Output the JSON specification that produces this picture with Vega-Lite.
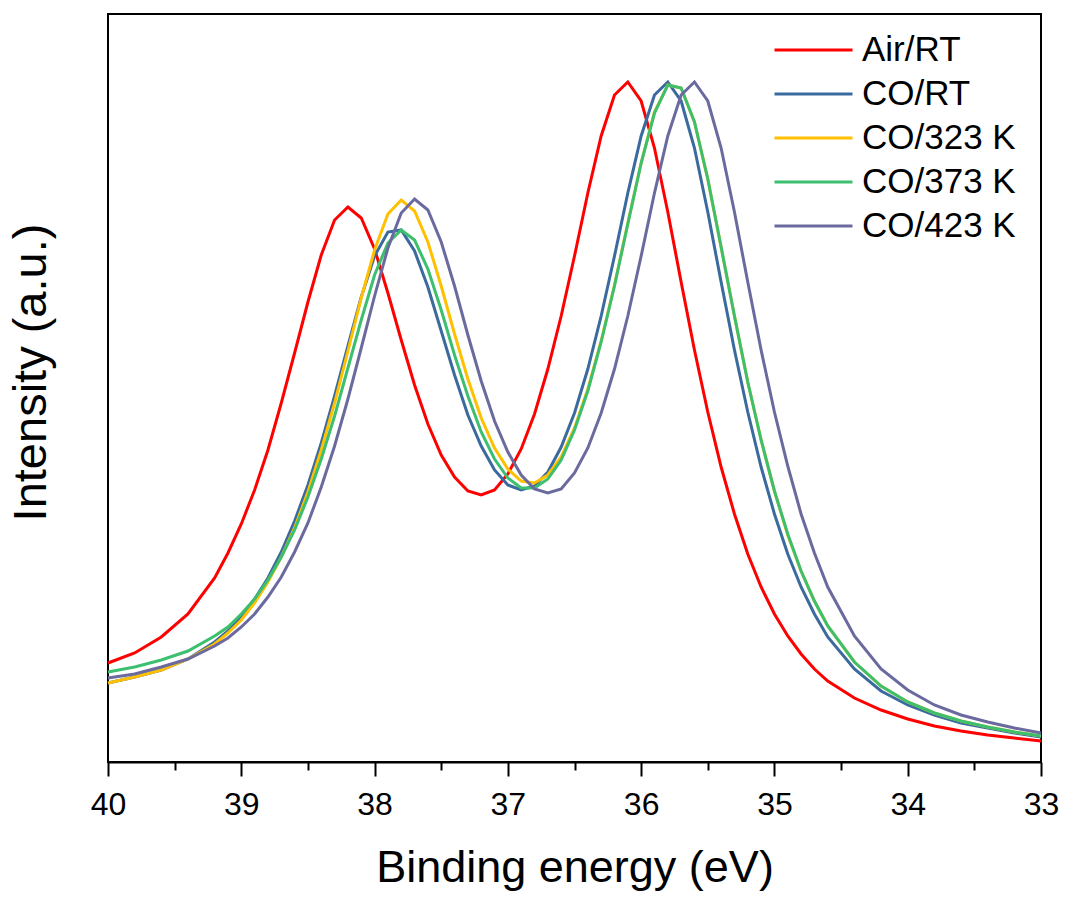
{
  "$schema": "https://vega.github.io/schema/vega-lite/v6.json",
  "width": 933,
  "height": 748,
  "autosize": {"type": "none"},
  "padding": {"left": 108, "top": 14, "right": 24, "bottom": 136},
  "background": "white",
  "config": {
    "view": {"stroke": "black", "strokeWidth": 2},
    "font": "Liberation Sans"
  },
  "data": {
    "values": [
      {"e": 40.0, "Air/RT": 99, "CO/RT": 79, "CO/323 K": 79, "CO/373 K": 90, "CO/423 K": 84},
      {"e": 39.8, "Air/RT": 109, "CO/RT": 85, "CO/323 K": 85, "CO/373 K": 95, "CO/423 K": 88},
      {"e": 39.6, "Air/RT": 125, "CO/RT": 92, "CO/323 K": 92, "CO/373 K": 102, "CO/423 K": 95},
      {"e": 39.4, "Air/RT": 148, "CO/RT": 103, "CO/323 K": 103, "CO/373 K": 111, "CO/423 K": 103},
      {"e": 39.2, "Air/RT": 184, "CO/RT": 120, "CO/323 K": 118, "CO/373 K": 126, "CO/423 K": 116},
      {"e": 39.1, "Air/RT": 209, "CO/RT": 131, "CO/323 K": 129, "CO/373 K": 135, "CO/423 K": 124},
      {"e": 39.0, "Air/RT": 238, "CO/RT": 145, "CO/323 K": 142, "CO/373 K": 148, "CO/423 K": 135},
      {"e": 38.9, "Air/RT": 272, "CO/RT": 163, "CO/323 K": 159, "CO/373 K": 163, "CO/423 K": 148},
      {"e": 38.8, "Air/RT": 312, "CO/RT": 184, "CO/323 K": 180, "CO/373 K": 182, "CO/423 K": 165},
      {"e": 38.7, "Air/RT": 359, "CO/RT": 210, "CO/323 K": 205, "CO/373 K": 205, "CO/423 K": 185},
      {"e": 38.6, "Air/RT": 409, "CO/RT": 241, "CO/323 K": 234, "CO/373 K": 232, "CO/423 K": 210},
      {"e": 38.5, "Air/RT": 460, "CO/RT": 277, "CO/323 K": 270, "CO/373 K": 265, "CO/423 K": 239},
      {"e": 38.4, "Air/RT": 507, "CO/RT": 319, "CO/323 K": 312, "CO/373 K": 303, "CO/423 K": 275},
      {"e": 38.3, "Air/RT": 542, "CO/RT": 366, "CO/323 K": 359, "CO/373 K": 346, "CO/423 K": 316},
      {"e": 38.2, "Air/RT": 555, "CO/RT": 416, "CO/323 K": 411, "CO/373 K": 394, "CO/423 K": 363},
      {"e": 38.1, "Air/RT": 544, "CO/RT": 465, "CO/323 K": 464, "CO/373 K": 442, "CO/423 K": 414},
      {"e": 38.0, "Air/RT": 513, "CO/RT": 506, "CO/323 K": 512, "CO/373 K": 487, "CO/423 K": 466},
      {"e": 37.9, "Air/RT": 469, "CO/RT": 530, "CO/323 K": 548, "CO/373 K": 519, "CO/423 K": 514},
      {"e": 37.8, "Air/RT": 422, "CO/RT": 532, "CO/323 K": 562, "CO/373 K": 532, "CO/423 K": 549},
      {"e": 37.7, "Air/RT": 377, "CO/RT": 511, "CO/323 K": 551, "CO/373 K": 522, "CO/423 K": 563},
      {"e": 37.6, "Air/RT": 338, "CO/RT": 475, "CO/323 K": 520, "CO/373 K": 493, "CO/423 K": 552},
      {"e": 37.5, "Air/RT": 307, "CO/RT": 431, "CO/323 K": 476, "CO/373 K": 452, "CO/423 K": 520},
      {"e": 37.4, "Air/RT": 285, "CO/RT": 387, "CO/323 K": 428, "CO/373 K": 407, "CO/423 K": 476},
      {"e": 37.3, "Air/RT": 271, "CO/RT": 347, "CO/323 K": 383, "CO/373 K": 366, "CO/423 K": 427},
      {"e": 37.2, "Air/RT": 267, "CO/RT": 316, "CO/323 K": 344, "CO/373 K": 330, "CO/423 K": 381},
      {"e": 37.1, "Air/RT": 272, "CO/RT": 292, "CO/323 K": 314, "CO/373 K": 303, "CO/423 K": 341},
      {"e": 37.0, "Air/RT": 288, "CO/RT": 277, "CO/323 K": 293, "CO/373 K": 284, "CO/423 K": 310},
      {"e": 36.9, "Air/RT": 313, "CO/RT": 272, "CO/323 K": 281, "CO/373 K": 274, "CO/423 K": 287},
      {"e": 36.8, "Air/RT": 348, "CO/RT": 276, "CO/323 K": 279, "CO/373 K": 274, "CO/423 K": 273},
      {"e": 36.7, "Air/RT": 393, "CO/RT": 290, "CO/323 K": 287, "CO/373 K": 283, "CO/423 K": 269},
      {"e": 36.6, "Air/RT": 446, "CO/RT": 315, "CO/323 K": 305, "CO/373 K": 302, "CO/423 K": 273},
      {"e": 36.5, "Air/RT": 506, "CO/RT": 349, "CO/323 K": 334, "CO/373 K": 332, "CO/423 K": 289},
      {"e": 36.4, "Air/RT": 569, "CO/RT": 393, "CO/323 K": 373, "CO/373 K": 371, "CO/423 K": 314},
      {"e": 36.3, "Air/RT": 626, "CO/RT": 446, "CO/323 K": 421, "CO/373 K": 420, "CO/423 K": 349},
      {"e": 36.2, "Air/RT": 667, "CO/RT": 506, "CO/323 K": 477, "CO/373 K": 476, "CO/423 K": 393},
      {"e": 36.1, "Air/RT": 680, "CO/RT": 569, "CO/323 K": 539, "CO/373 K": 538, "CO/423 K": 446},
      {"e": 36.0, "Air/RT": 661, "CO/RT": 626, "CO/323 K": 599, "CO/373 K": 599, "CO/423 K": 506},
      {"e": 35.9, "Air/RT": 614, "CO/RT": 667, "CO/323 K": 650, "CO/373 K": 649, "CO/423 K": 569},
      {"e": 35.8, "Air/RT": 550, "CO/RT": 680, "CO/323 K": 677, "CO/373 K": 677, "CO/423 K": 626},
      {"e": 35.7, "Air/RT": 480, "CO/RT": 661, "CO/323 K": 674, "CO/373 K": 674, "CO/423 K": 667},
      {"e": 35.6, "Air/RT": 412, "CO/RT": 614, "CO/323 K": 640, "CO/373 K": 640, "CO/423 K": 680},
      {"e": 35.5, "Air/RT": 350, "CO/RT": 550, "CO/323 K": 583, "CO/373 K": 583, "CO/423 K": 661},
      {"e": 35.4, "Air/RT": 295, "CO/RT": 480, "CO/323 K": 515, "CO/373 K": 515, "CO/423 K": 614},
      {"e": 35.3, "Air/RT": 248, "CO/RT": 412, "CO/323 K": 446, "CO/373 K": 446, "CO/423 K": 550},
      {"e": 35.2, "Air/RT": 208, "CO/RT": 350, "CO/323 K": 380, "CO/373 K": 380, "CO/423 K": 480},
      {"e": 35.1, "Air/RT": 175, "CO/RT": 295, "CO/323 K": 322, "CO/373 K": 322, "CO/423 K": 412},
      {"e": 35.0, "Air/RT": 148, "CO/RT": 248, "CO/323 K": 271, "CO/373 K": 271, "CO/423 K": 350},
      {"e": 34.9, "Air/RT": 126, "CO/RT": 208, "CO/323 K": 227, "CO/373 K": 228, "CO/423 K": 296},
      {"e": 34.8, "Air/RT": 108, "CO/RT": 175, "CO/323 K": 191, "CO/373 K": 191, "CO/423 K": 248},
      {"e": 34.7, "Air/RT": 93, "CO/RT": 148, "CO/323 K": 161, "CO/373 K": 161, "CO/423 K": 209},
      {"e": 34.6, "Air/RT": 81, "CO/RT": 125, "CO/323 K": 136, "CO/373 K": 136, "CO/423 K": 175},
      {"e": 34.4, "Air/RT": 64, "CO/RT": 93, "CO/323 K": 100, "CO/373 K": 100, "CO/423 K": 126},
      {"e": 34.2, "Air/RT": 52, "CO/RT": 71, "CO/323 K": 76, "CO/373 K": 76, "CO/423 K": 93},
      {"e": 34.0, "Air/RT": 43, "CO/RT": 57, "CO/323 K": 60, "CO/373 K": 60, "CO/423 K": 72},
      {"e": 33.8, "Air/RT": 36, "CO/RT": 47, "CO/323 K": 49, "CO/373 K": 49, "CO/423 K": 57},
      {"e": 33.6, "Air/RT": 31, "CO/RT": 39, "CO/323 K": 41, "CO/373 K": 41, "CO/423 K": 47},
      {"e": 33.4, "Air/RT": 27, "CO/RT": 34, "CO/323 K": 35, "CO/373 K": 35, "CO/423 K": 40},
      {"e": 33.2, "Air/RT": 24, "CO/RT": 29, "CO/323 K": 30, "CO/373 K": 30, "CO/423 K": 34},
      {"e": 33.0, "Air/RT": 21, "CO/RT": 25, "CO/323 K": 26, "CO/373 K": 26, "CO/423 K": 29}
    ]
  },
  "transform": [
    {"fold": ["Air/RT", "CO/RT", "CO/323 K", "CO/373 K", "CO/423 K"], "as": ["series", "intensity"]}
  ],
  "resolve": {"axis": {"x": "independent"}},
  "layer": [
    {
      "mark": {"type": "line", "strokeWidth": 3, "interpolate": "linear"},
      "encoding": {
        "x": {
          "field": "e", "type": "quantitative",
          "scale": {"domain": [33, 40], "reverse": true, "nice": false, "zero": false},
          "axis": {
            "orient": "bottom",
            "values": [40, 39, 38, 37, 36, 35, 34, 33],
            "format": "d",
            "grid": false,
            "tickSize": 14, "tickWidth": 2, "tickColor": "black",
            "domainColor": "black", "domainWidth": 2,
            "labelFontSize": 32, "labelFont": "Liberation Sans", "labelColor": "black",
            "labelPadding": 13, "labelAngle": 0, "labelFlush": false, "labelOverlap": false,
            "title": "Binding energy (eV)",
            "titleFontSize": 45, "titleFont": "Liberation Sans", "titleFontWeight": "normal",
            "titleColor": "black", "titlePadding": 25
          }
        },
        "y": {
          "field": "intensity", "type": "quantitative",
          "scale": {"domain": [0, 748], "nice": false, "zero": false},
          "axis": {
            "title": "Intensity (a.u.)", "ticks": false, "labels": false, "domain": false, "grid": false,
            "titleFontSize": 47, "titleFont": "Liberation Sans", "titleFontWeight": "normal",
            "titleColor": "black", "titlePadding": 53, "titleY": 358
          }
        },
        "color": {
          "field": "series", "type": "nominal",
          "scale": {
            "domain": ["Air/RT", "CO/RT", "CO/323 K", "CO/373 K", "CO/423 K"],
            "range": ["#FF0000", "#3A6A9E", "#FFC000", "#3CBF6E", "#6B6A9F"]
          },
          "legend": {
            "title": null,
            "orient": "none",
            "legendX": 665,
            "legendY": 14,
            "symbolType": "stroke",
            "symbolSize": 6084,
            "symbolStrokeWidth": 3,
            "clipHeight": 44,
            "rowPadding": 0,
            "padding": 0,
            "labelOffset": 8,
            "labelFontSize": 35,
            "labelFont": "Liberation Sans",
            "labelColor": "black",
            "labelLimit": 400
          }
        }
      }
    },
    {
      "mark": {"type": "line", "opacity": 0},
      "encoding": {
        "x": {
          "field": "e", "type": "quantitative",
          "axis": {
            "orient": "bottom",
            "values": [39.5, 38.5, 37.5, 36.5, 35.5, 34.5, 33.5],
            "grid": false, "labels": false, "domain": false, "title": null,
            "tickSize": 8, "tickWidth": 2, "tickColor": "black"
          }
        },
        "y": {
          "field": "intensity", "type": "quantitative",
          "axis": {
            "title": "Intensity (a.u.)", "ticks": false, "labels": false, "domain": false, "grid": false,
            "titleFontSize": 47, "titleFont": "Liberation Sans", "titleFontWeight": "normal",
            "titleColor": "black", "titlePadding": 53, "titleY": 358
          }
        }
      }
    }
  ]
}
